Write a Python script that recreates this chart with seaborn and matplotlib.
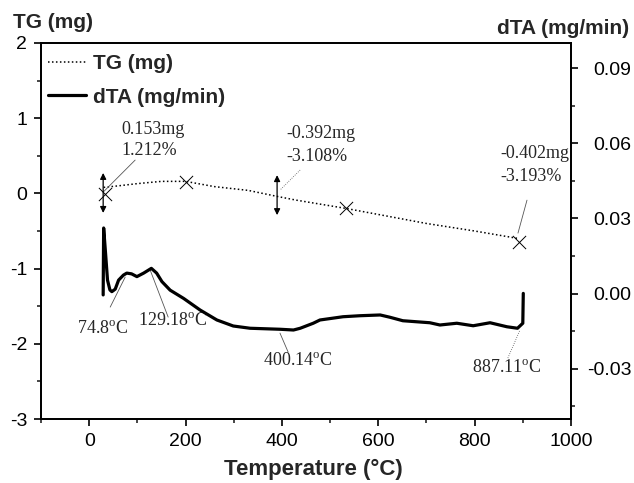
import matplotlib
matplotlib.use("Agg")
import matplotlib.pyplot as plt
import seaborn as sns
import pandas as pd
from matplotlib.lines import Line2D
from matplotlib.ticker import MultipleLocator, FormatStrFormatter

# ---------------- data ----------------
tg_temp = [30, 60, 100, 150, 200, 260, 330, 390, 430, 533, 600, 700, 800, 891]
tg_mass = [0.08, 0.10, 0.13, 0.16, 0.16, 0.09, 0.04, -0.04, -0.09, -0.20, -0.28, -0.40, -0.50, -0.60]

tg_mark_temp = [33, 201, 533, 893]
tg_mark_mass = [-0.013, 0.154, -0.20, -0.64]

dta_temp = [29, 30, 34, 38, 43, 47, 54, 61, 71, 78, 88, 99, 113, 129, 140, 151, 168,
            196, 230, 265, 299, 334, 396, 424, 438, 465, 479, 527, 562, 604, 624, 651,
            707, 728, 763, 797, 832, 867, 889, 900, 901]
dta_rate = [-0.0005, 0.0262, 0.016, 0.0054, 0.0015, 0.0008, 0.0018, 0.0054, 0.0074, 0.0082,
            0.0079, 0.0068, 0.0082, 0.0101, 0.0082, 0.0048, 0.0014, -0.0019, -0.0065,
            -0.0105, -0.0129, -0.0138, -0.0142, -0.0145, -0.0138, -0.0118, -0.0105,
            -0.0092, -0.0088, -0.0085, -0.0094, -0.0108, -0.0116, -0.0125, -0.0118,
            -0.0128, -0.0116, -0.0132, -0.0138, -0.0118, 0.0001]

mass_labels = [("0.153mg", "1.212%"), ("-0.392mg", "-3.108%"), ("-0.402mg", "-3.193%")]
temp_labels = ["74.8", "129.18", "400.14", "887.11"]

x_ticks = [0, 200, 400, 600, 800, 1000]
tg_ticks = [-3, -2, -1, 0, 1, 2]
dta_ticks = [-0.03, 0.00, 0.03, 0.06, 0.09]

# ---------------- style ----------------
sns.set_style("ticks")
plt.rcParams["font.family"] = ["Liberation Sans", "DejaVu Sans"]
plt.rcParams["axes.unicode_minus"] = False
plt.rcParams["mathtext.fontset"] = "custom"
plt.rcParams["mathtext.rm"] = "Liberation Serif"
plt.rcParams["mathtext.it"] = "Liberation Serif:italic"

fig = plt.figure(figsize=(6.34, 4.83), dpi=100)
ax = fig.add_axes([0.0647, 0.1325, 0.8359, 0.7785])
ax2 = ax.twinx()

tg_df = pd.DataFrame({"T": tg_temp, "TG": tg_mass})
mk_df = pd.DataFrame({"T": tg_mark_temp, "TG": tg_mark_mass})
dta_df = pd.DataFrame({"T": dta_temp, "dTA": dta_rate})

sns.lineplot(data=tg_df, x="T", y="TG", ax=ax, color="black", linestyle=(0, (1, 1.6)),
             linewidth=1.1, estimator=None, sort=False, legend=False)
sns.scatterplot(data=mk_df, x="T", y="TG", ax=ax, marker="x", s=90, color="black",
                linewidth=0.7, legend=False, zorder=5)
sns.lineplot(data=dta_df, x="T", y="dTA", ax=ax2, color="black", linewidth=2.3,
             estimator=None, sort=False, legend=False)

# ---------------- axes ----------------
ax.set_xlim(-100, 1000)
ax.set_ylim(-3, 2)
ax2.set_ylim(-0.05, 0.10)
ax.set_xticks(x_ticks)
ax.set_yticks(tg_ticks)
ax2.set_yticks(dta_ticks)
ax.xaxis.set_minor_locator(MultipleLocator(100))
ax.yaxis.set_minor_locator(MultipleLocator(0.5))
ax2.yaxis.set_minor_locator(MultipleLocator(0.015))
ax2.yaxis.set_major_formatter(FormatStrFormatter("%.2f"))
ax.set_xlabel("")
ax.set_ylabel("")
ax2.set_ylabel("")

for a in (ax, ax2):
    for s in a.spines.values():
        s.set_visible(True)
        s.set_linewidth(1.3)
        s.set_color("black")
    a.tick_params(which="major", direction="out", length=5, width=1.2, labelsize=14,
                  colors="black", pad=5)
    a.tick_params(which="minor", direction="out", length=3, width=1.2)
# right-axis labels right-aligned ending near the figure edge
ax2.tick_params(axis="y", which="major", pad=38.5)
for t in ax2.get_yticklabels():
    t.set_horizontalalignment("right")

fig.text(13 / 634, 1 - 22 / 483, "TG (mg)", fontsize=15, fontweight="bold", ha="left", va="center")
fig.text(629 / 634, 1 - 29 / 483, "dTA (mg/min)", fontsize=15, fontweight="bold", ha="right", va="center")
fig.text(313 / 634, 1 - 469 / 483, "Temperature (°C)", fontsize=16, fontweight="bold",
         ha="center", va="center")

# ---------------- legend ----------------
handles = [Line2D([], [], color="black", linestyle=(0, (1, 1.6)), linewidth=1.1),
           Line2D([], [], color="black", linewidth=2.3)]
leg = ax2.legend(handles, ["TG (mg)", "dTA (mg/min)"], loc="upper left",
                 bbox_to_anchor=(7 / 530, 1 - 11 / 376), frameon=False, borderaxespad=0,
                 borderpad=0, handlelength=1.8, handletextpad=0.35, labelspacing=0.7,
                 prop={"family": "Liberation Sans", "weight": "bold", "size": 15})

# ---------------- annotations ----------------
serif = {"family": "Liberation Serif", "size": 13}
mass_pos = [(66.4, 0.855, 0.576), (408.7, 0.802, 0.496), (852.7, 0.536, 0.230)]
for (l1, l2), (tx, y1, y2) in zip(mass_labels, mass_pos):
    ax.text(tx, y1, l1, ha="left", va="center", fontdict=serif)
    ax.text(tx, y2, l2, ha="left", va="center", fontdict=serif)

temp_pos = [(-24.9, -1.80), (101.7, -1.695), (361, -2.227), (794.6, -2.32)]
for lab, (tx, ty) in zip(temp_labels, temp_pos):
    ax.text(tx, ty, lab + r"$^{\mathrm{o}}$C", ha="left", va="center", fontdict=serif)

leaders = [((95.4, 0.443), (29, 0.017), "-"),
           ((437.8, 0.31), (396, 0.044), ":"),
           ((908.7, -0.09), (890, -0.528), "-"),
           ((43.6, -1.512), (74.7, -1.113), "-"),
           ((163.9, -1.645), (126.6, -1.02), "-"),
           ((412.9, -2.11), (396, -1.858), "-"),
           ((869, -2.19), (894, -1.818), ":")]
for p0, p1, ls in leaders:
    ax.plot([p0[0], p1[0]], [p0[1], p1[1]], color="#555555", linewidth=0.6, linestyle=ls)

for xa, ytop, ybot in [(29, 0.272, -0.26), (390, 0.243, -0.289)]:
    ax.annotate("", xy=(xa, ytop), xytext=(xa, ybot),
                arrowprops=dict(arrowstyle="<|-|>", color="black", lw=0.9,
                                mutation_scale=9, shrinkA=0, shrinkB=0))

fig.savefig("out.png", dpi=100)
